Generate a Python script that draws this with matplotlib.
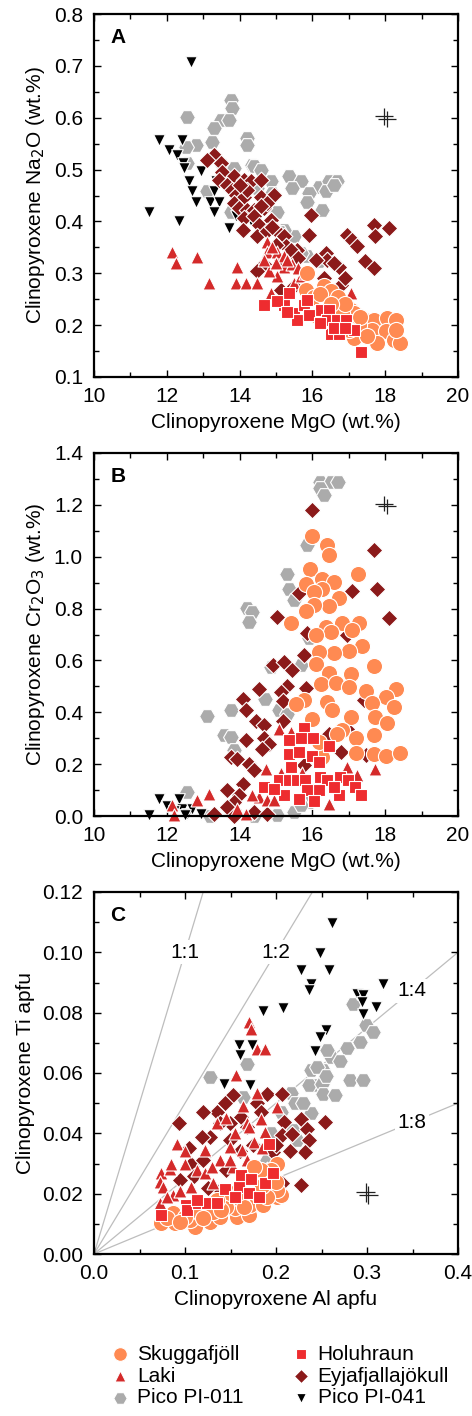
import matplotlib
matplotlib.use("Agg")
import matplotlib.pyplot as plt
from matplotlib.ticker import MultipleLocator, FormatStrFormatter

plt.rcParams['font.family'] = ['Liberation Sans', 'DejaVu Sans']

# ---------------- Panel A: MgO vs Na2O ----------------
skug_A_mgo = [15.86, 15.82, 16.04, 16.32, 16.50, 16.14, 17.05, 17.14, 17.45, 17.68, 18.06, 18.29, 17.64, 18.01,
              17.14, 17.78, 18.24, 18.42, 16.96, 16.64, 16.82, 17.28, 16.32,
              16.20, 16.70, 16.90, 17.30, 17.00, 17.50, 18.30, 16.50]
skug_A_na = [0.300, 0.268, 0.255, 0.275, 0.265, 0.217, 0.230, 0.223, 0.210, 0.210, 0.214, 0.210, 0.191, 0.188,
             0.175, 0.166, 0.172, 0.166, 0.201, 0.210, 0.223, 0.201, 0.223,
             0.260, 0.255, 0.240, 0.215, 0.190, 0.180, 0.190, 0.240]
holu_A_mgo = [14.67, 15.22, 15.36, 15.49, 15.77, 16.04, 16.23, 16.45, 15.58, 16.41, 16.68, 16.91, 17.14, 16.50,
              16.73, 17.33, 15.04, 15.86, 15.90, 16.20, 16.60, 15.30, 16.90]
holu_A_na = [0.239, 0.239, 0.262, 0.223, 0.239, 0.220, 0.230, 0.230, 0.210, 0.210, 0.210, 0.210, 0.191, 0.182,
             0.182, 0.149, 0.246, 0.249, 0.220, 0.205, 0.195, 0.225, 0.195]
laki_A_mgo = [12.15, 12.24, 12.84, 13.16, 13.94, 13.89, 14.17, 14.49, 14.76, 14.76, 15.04, 15.22, 15.22, 15.04,
              14.81, 15.45, 15.49, 14.86, 17.05, 15.68, 14.67, 15.31, 15.60, 15.80, 15.00, 14.90]
laki_A_na = [0.342, 0.320, 0.331, 0.281, 0.313, 0.281, 0.281, 0.281, 0.361, 0.342, 0.342, 0.333, 0.313, 0.294,
             0.304, 0.317, 0.281, 0.262, 0.262, 0.294, 0.326, 0.326, 0.310, 0.300, 0.320, 0.350]
eyja_A_mgo = [13.30, 13.11, 13.48, 13.52, 13.43, 13.85, 14.12, 14.30, 14.58, 13.66, 13.80, 13.89, 14.12, 14.58,
              14.95, 13.85, 13.98, 14.21, 14.40, 14.67, 14.76, 14.12, 14.40, 14.85, 14.53, 14.08, 14.49, 14.76,
              14.99, 15.22, 15.95, 15.90, 15.58, 15.31, 14.67, 14.49, 15.13, 16.36, 16.41, 16.73, 16.78, 16.32,
              16.96, 17.09, 17.23, 17.45, 17.68, 17.68, 17.73, 18.10, 15.13, 15.49, 15.27,
              14.20, 14.00, 14.60, 14.90, 15.00, 15.40, 15.60, 16.10, 16.60, 16.90]
eyja_A_na = [0.528, 0.519, 0.512, 0.496, 0.480, 0.487, 0.480, 0.477, 0.480, 0.470, 0.461, 0.451, 0.448, 0.448,
             0.451, 0.435, 0.426, 0.422, 0.422, 0.426, 0.435, 0.406, 0.410, 0.403, 0.394, 0.384, 0.371, 0.381,
             0.384, 0.371, 0.413, 0.374, 0.345, 0.330, 0.317, 0.304, 0.326, 0.339, 0.326, 0.313, 0.278, 0.291,
             0.374, 0.365, 0.352, 0.323, 0.310, 0.394, 0.371, 0.387, 0.268, 0.275, 0.352,
             0.460, 0.470, 0.430, 0.390, 0.355, 0.345, 0.330, 0.325, 0.320, 0.290]
pi011_A_mgo = [13.75, 13.80, 13.48, 13.71, 12.55, 13.30, 13.25, 12.79, 12.52, 14.21, 14.21, 12.56, 13.11, 13.52,
               13.85, 14.35, 14.40, 14.85, 15.36, 15.68, 15.45, 16.18, 16.46, 16.68, 16.36, 15.90, 15.86, 16.27,
               13.75, 15.04, 15.49, 15.22, 15.86, 16.18, 14.49, 14.60, 14.90, 15.10, 15.70, 16.60]
pi011_A_na = [0.634, 0.618, 0.596, 0.596, 0.602, 0.580, 0.554, 0.548, 0.544, 0.560, 0.548, 0.512, 0.458, 0.509,
              0.503, 0.509, 0.506, 0.477, 0.487, 0.477, 0.464, 0.467, 0.477, 0.477, 0.458, 0.455, 0.438, 0.422,
              0.419, 0.419, 0.371, 0.384, 0.333, 0.323, 0.464, 0.500, 0.455, 0.380, 0.340, 0.470]
pi041_A_mgo = [12.66, 11.79, 12.43, 12.06, 12.29, 12.45, 12.93, 12.61, 12.70, 13.34, 13.30, 12.79, 13.20, 13.43,
               13.30, 11.51, 12.34, 13.71, 13.89, 14.30, 12.47]
pi041_A_na = [0.708, 0.557, 0.557, 0.538, 0.528, 0.512, 0.498, 0.477, 0.458, 0.477, 0.458, 0.438, 0.438, 0.438,
              0.419, 0.419, 0.400, 0.387, 0.410, 0.400, 0.503]

# ---------------- Panel B: MgO vs Cr2O3 ----------------
skug_B_mgo = [16.00, 16.41, 16.45, 17.25, 15.93, 16.27, 16.58, 15.82, 16.27, 16.04, 16.73, 16.45, 16.04, 15.82,
              15.40, 17.28, 16.82, 16.36, 16.50, 16.09, 17.10, 17.37, 17.01, 16.59, 16.18, 16.09, 17.69, 17.05,
              16.45, 16.23, 16.64, 17.01, 17.46, 18.29, 18.01, 17.65, 18.24, 15.77, 15.54, 16.41, 16.54, 16.00,
              17.05, 17.72, 18.04, 16.82, 17.19, 17.69, 17.19, 17.69, 18.01, 18.41, 16.27, 16.68, 16.18]
skug_B_cr = [1.080, 1.045, 1.007, 0.933, 0.951, 0.913, 0.904, 0.895, 0.874, 0.865, 0.839, 0.810, 0.814, 0.792,
             0.745, 0.743, 0.743, 0.730, 0.711, 0.698, 0.717, 0.655, 0.637, 0.630, 0.633, 0.588, 0.578, 0.547,
             0.550, 0.509, 0.514, 0.498, 0.483, 0.488, 0.460, 0.436, 0.421, 0.447, 0.431, 0.440, 0.408, 0.376,
             0.380, 0.382, 0.359, 0.333, 0.299, 0.312, 0.243, 0.238, 0.230, 0.243, 0.228, 0.318, 0.286]
holu_B_mgo = [15.77, 15.36, 15.68, 16.03, 16.46, 15.36, 15.64, 16.00, 16.18, 14.67, 15.08, 15.36, 15.58, 15.81,
              16.22, 16.40, 16.77, 16.99, 17.18, 17.33, 16.73, 16.18, 15.86, 16.04, 15.63, 15.22, 14.95, 16.59,
              15.40]
holu_B_cr = [0.341, 0.292, 0.299, 0.299, 0.269, 0.241, 0.247, 0.230, 0.209, 0.112, 0.138, 0.138, 0.138, 0.138,
             0.151, 0.138, 0.151, 0.138, 0.112, 0.080, 0.080, 0.099, 0.099, 0.058, 0.067, 0.080, 0.106, 0.112,
             0.190]
laki_B_mgo = [12.15, 12.20, 12.84, 13.16, 13.94, 14.17, 14.53, 14.76, 15.08, 15.40, 14.72, 16.96, 17.23, 17.73,
              16.45, 15.13, 15.72, 14.95, 14.35]
laki_B_cr = [0.041, 0.003, 0.060, 0.086, 0.028, 0.009, 0.073, 0.060, 0.337, 0.324, 0.183, 0.190, 0.157, 0.183,
             0.048, 0.164, 0.164, 0.060, 0.080]
eyja_B_mgo = [16.00, 17.69, 17.77, 17.10, 18.10, 15.02, 15.63, 14.93, 15.22, 15.45, 15.77, 15.86, 16.96, 14.53,
              15.31, 15.13, 15.82, 14.08, 15.18, 14.17, 14.44, 15.18, 14.67, 14.17, 14.67, 14.81, 16.45, 16.78,
              13.75, 13.94, 14.26, 14.40, 14.08, 13.66, 13.98, 13.85, 13.66, 13.30, 13.85, 14.40, 14.76, 14.62,
              15.77, 17.42, 17.46, 16.96]
eyja_B_cr = [1.180, 1.024, 0.874, 0.868, 0.762, 0.766, 0.859, 0.582, 0.595, 0.563, 0.621, 0.704, 0.698, 0.488,
             0.501, 0.479, 0.492, 0.453, 0.444, 0.408, 0.367, 0.367, 0.350, 0.292, 0.299, 0.279, 0.318, 0.247,
             0.228, 0.221, 0.202, 0.176, 0.125, 0.099, 0.080, 0.054, 0.035, 0.009, 0.000, 0.015, 0.009, 0.260,
             0.196, 0.447, 0.234, 0.337]
pi011_B_mgo = [16.22, 16.50, 16.69, 16.22, 16.31, 15.86, 15.31, 15.36, 15.49, 14.21, 14.35, 14.26, 15.91, 14.87,
               15.68, 14.71, 13.75, 13.11, 13.57, 13.75, 15.08, 15.31, 12.56, 13.20, 14.40, 15.04, 15.49, 15.90,
               15.68, 13.85]
pi011_B_cr = [1.290, 1.290, 1.290, 1.264, 1.239, 1.045, 0.933, 0.874, 0.833, 0.801, 0.788, 0.749, 0.685, 0.576,
              0.582, 0.453, 0.408, 0.385, 0.312, 0.305, 0.408, 0.395, 0.093, 0.000, 0.000, 0.003, 0.015, 0.054,
              0.041, 0.254]
pi041_B_mgo = [11.51, 11.79, 12.34, 12.00, 12.43, 12.56, 12.70, 12.93, 12.20, 12.51]
pi041_B_cr = [0.005, 0.067, 0.067, 0.040, 0.028, 0.009, 0.028, 0.009, 0.020, 0.003]

# ---------------- Panel C: Al vs Ti (apfu) ----------------
skug_C_al = [0.074, 0.089, 0.111, 0.128, 0.106, 0.087, 0.117, 0.139, 0.157, 0.170, 0.155, 0.171, 0.186, 0.201,
             0.206, 0.201, 0.201, 0.194, 0.183, 0.176, 0.145, 0.131, 0.100, 0.080, 0.161, 0.179, 0.149,
             0.095, 0.120, 0.140, 0.165, 0.190, 0.200, 0.185, 0.160, 0.135]
skug_C_ti = [0.0102, 0.0102, 0.0090, 0.0107, 0.0113, 0.0135, 0.0135, 0.0124, 0.0124, 0.0129, 0.0151, 0.0162,
             0.0162, 0.0190, 0.0195, 0.0212, 0.0300, 0.0278, 0.0278, 0.0289, 0.0157, 0.0140, 0.0124, 0.0118,
             0.0179, 0.0201, 0.0201, 0.0105, 0.0120, 0.0145, 0.0155, 0.0190, 0.0240, 0.0225, 0.0205, 0.0180]
holu_C_al = [0.074, 0.101, 0.102, 0.114, 0.124, 0.135, 0.144, 0.159, 0.162, 0.173, 0.155, 0.170, 0.181, 0.188,
             0.197, 0.192, 0.113]
holu_C_ti = [0.0129, 0.0162, 0.0146, 0.0168, 0.0168, 0.0168, 0.0217, 0.0223, 0.0262, 0.0250, 0.0190, 0.0201,
             0.0190, 0.0236, 0.0267, 0.0366, 0.0179]
laki_C_al = [0.170, 0.173, 0.179, 0.188, 0.156, 0.179, 0.164, 0.201, 0.135, 0.168, 0.183, 0.188, 0.091, 0.122,
             0.149, 0.163, 0.176, 0.100, 0.139, 0.113, 0.074, 0.073, 0.084, 0.076, 0.107, 0.122, 0.153, 0.168,
             0.087, 0.073, 0.131, 0.149, 0.155, 0.170, 0.145, 0.185, 0.100, 0.085, 0.095, 0.130, 0.160, 0.080]
laki_C_ti = [0.0769, 0.0747, 0.0681, 0.0681, 0.0593, 0.0534, 0.0490, 0.0488, 0.0433, 0.0433, 0.0449, 0.0405,
             0.0366, 0.0344, 0.0355, 0.0344, 0.0372, 0.0300, 0.0311, 0.0278, 0.0267, 0.0239, 0.0283, 0.0223,
             0.0223, 0.0267, 0.0289, 0.0311, 0.0195, 0.0168, 0.0234, 0.0311, 0.0400, 0.0420, 0.0450, 0.0350,
             0.0340, 0.0300, 0.0210, 0.0290, 0.0250, 0.0190]
eyja_C_al = [0.093, 0.153, 0.144, 0.135, 0.120, 0.190, 0.207, 0.179, 0.161, 0.149, 0.139, 0.128, 0.119, 0.149,
             0.209, 0.227, 0.254, 0.207, 0.218, 0.234, 0.236, 0.232, 0.197, 0.104, 0.095, 0.107, 0.120, 0.139,
             0.228, 0.207, 0.183, 0.168, 0.160, 0.175, 0.200, 0.215, 0.145, 0.125, 0.110, 0.190]
eyja_C_ti = [0.0433, 0.0526, 0.0499, 0.0471, 0.0471, 0.0532, 0.0530, 0.0499, 0.0455, 0.0433, 0.0433, 0.0388,
             0.0388, 0.0377, 0.0438, 0.0449, 0.0436, 0.0394, 0.0399, 0.0416, 0.0377, 0.0339, 0.0339, 0.0350,
             0.0245, 0.0300, 0.0310, 0.0212, 0.0228, 0.0236, 0.0471, 0.0422, 0.0340, 0.0360, 0.0360, 0.0340,
             0.0280, 0.0220, 0.0260, 0.0280]
pi011_C_al = [0.285, 0.299, 0.307, 0.292, 0.278, 0.260, 0.256, 0.281, 0.296, 0.238, 0.252, 0.241, 0.236, 0.251,
              0.252, 0.265, 0.216, 0.221, 0.238, 0.219, 0.223, 0.168, 0.128, 0.164, 0.190,
              0.245, 0.255, 0.230, 0.270, 0.205, 0.195]
pi011_C_ti = [0.0830, 0.0758, 0.0736, 0.0703, 0.0684, 0.0653, 0.0675, 0.0578, 0.0576, 0.0609, 0.0609, 0.0560,
              0.0560, 0.0565, 0.0532, 0.0526, 0.0534, 0.0499, 0.0466, 0.0410, 0.0377, 0.0631, 0.0587, 0.0521,
              0.0310, 0.0620, 0.0590, 0.0500, 0.0640, 0.0470, 0.0400]
pi041_C_al = [0.262, 0.248, 0.228, 0.258, 0.238, 0.236, 0.318, 0.289, 0.296, 0.294, 0.310, 0.296, 0.186, 0.208,
              0.159, 0.174, 0.160, 0.255, 0.248, 0.243, 0.143, 0.171]
pi041_C_ti = [0.1097, 0.0998, 0.0940, 0.0940, 0.0896, 0.0876, 0.0896, 0.0863, 0.0857, 0.0835, 0.0819, 0.0797,
              0.0805, 0.0817, 0.0692, 0.0692, 0.0659, 0.0744, 0.0719, 0.0673, 0.0563, 0.0560]

ratios = [1, 2, 4, 8]
ratio_labels = ['1:1', '1:2', '1:4', '1:8']
ratio_label_al = [0.100, 0.200, 0.349, 0.349]

legend_order = ['Skuggafjöll', 'Laki', 'Pico PI-011', 'Holuhraun', 'Eyjafjallajökull', 'Pico PI-041']

# error crosses (center, half-widths)
err_A = (18.0, 0.60, 0.25, 0.016)
err_B = (18.0, 1.20, 0.25, 0.029)
err_C = (0.30, 0.020, 0.0103, 0.0030)

styles = {
    'Skuggafjöll': dict(marker='o', color='#FF8A52', s=135),
    'Holuhraun': dict(marker='s', color='#EE2C2F', s=68),
    'Laki': dict(marker='^', color='#D42A2A', s=88),
    'Eyjafjallajökull': dict(marker='D', color='#8B1A1A', s=72),
    'Pico PI-011': dict(marker='H', color='#ABABAB', s=130),
    'Pico PI-041': dict(marker='v', color='#000000', s=70),
}

W, H = 472, 1416
fig = plt.figure(figsize=(W / 100, H / 100), dpi=100)

def fax(l, t, r, b):
    return fig.add_axes([l / W, 1 - b / H, (r - l) / W, (b - t) / H])

axA = fax(94, 14, 458, 377)
axB = fax(94, 453, 458, 816)
axC = fax(94, 892, 458, 1254)

FS = 15

def draw(ax, data):
    order = ['Pico PI-011', 'Pico PI-041', 'Eyjafjallajökull', 'Laki', 'Skuggafjöll', 'Holuhraun']
    for name in order:
        x, y = data[name]
        st = styles[name]
        ax.scatter(x, y, marker=st['marker'], c=st['color'], s=st['s'], edgecolors='white',
                   linewidths=0.8, zorder=3, clip_on=False)

def style_axes(ax, xlim, ylim, xmaj, xmin, ymaj, ymin, xfmt, yfmt, xlabel, ylabel, letter):
    ax.set_xlim(*xlim)
    ax.set_ylim(*ylim)
    ax.xaxis.set_major_locator(MultipleLocator(xmaj))
    ax.xaxis.set_minor_locator(MultipleLocator(xmin))
    ax.yaxis.set_major_locator(MultipleLocator(ymaj))
    ax.yaxis.set_minor_locator(MultipleLocator(ymin))
    ax.xaxis.set_major_formatter(FormatStrFormatter(xfmt))
    ax.yaxis.set_major_formatter(FormatStrFormatter(yfmt))
    ax.tick_params(which='both', direction='in', top=True, right=True, labelsize=FS, width=1.0)
    ax.tick_params(which='major', length=5)
    ax.tick_params(which='minor', length=3.5)
    ax.tick_params(axis='x', pad=7)
    ax.tick_params(axis='y', pad=8)
    for sp in ax.spines.values():
        sp.set_linewidth(1.6)
        sp.set_zorder(5)
    ax.set_xlabel(xlabel, fontsize=FS, labelpad=5)
    ax.set_ylabel(ylabel, fontsize=FS, labelpad=5)
    ax.text(0.045, 0.935, letter, transform=ax.transAxes, fontsize=FS, fontweight='bold',
            ha='left', va='center', zorder=6)

def err_cross(ax, e, dx, dy):
    x, y, xe, ye = e
    for ox, oy in ((-dx, dy), (dx, -dy)):
        ax.errorbar([x + ox], [y + oy], xerr=[xe], yerr=[ye], fmt='none', ecolor='#222222',
                    elinewidth=0.9, capsize=0, zorder=4)

dataA = {'Skuggafjöll': (skug_A_mgo, skug_A_na), 'Holuhraun': (holu_A_mgo, holu_A_na),
         'Laki': (laki_A_mgo, laki_A_na), 'Eyjafjallajökull': (eyja_A_mgo, eyja_A_na),
         'Pico PI-011': (pi011_A_mgo, pi011_A_na), 'Pico PI-041': (pi041_A_mgo, pi041_A_na)}
dataB = {'Skuggafjöll': (skug_B_mgo, skug_B_cr), 'Holuhraun': (holu_B_mgo, holu_B_cr),
         'Laki': (laki_B_mgo, laki_B_cr), 'Eyjafjallajökull': (eyja_B_mgo, eyja_B_cr),
         'Pico PI-011': (pi011_B_mgo, pi011_B_cr), 'Pico PI-041': (pi041_B_mgo, pi041_B_cr)}
dataC = {'Skuggafjöll': (skug_C_al, skug_C_ti), 'Holuhraun': (holu_C_al, holu_C_ti),
         'Laki': (laki_C_al, laki_C_ti), 'Eyjafjallajökull': (eyja_C_al, eyja_C_ti),
         'Pico PI-011': (pi011_C_al, pi011_C_ti), 'Pico PI-041': (pi041_C_al, pi041_C_ti)}

# Panel A
draw(axA, dataA)
style_axes(axA, (10, 20), (0.1, 0.8), 2, 1, 0.1, 0.05, '%d', '%.1f',
           'Clinopyroxene MgO (wt.%)', 'Clinopyroxene Na$_2$O (wt.%)', 'A')
err_cross(axA, err_A, 0.04, 0.0025)

# Panel B
draw(axB, dataB)
style_axes(axB, (10, 20), (0.0, 1.4), 2, 1, 0.2, 0.1, '%d', '%.1f',
           'Clinopyroxene MgO (wt.%)', 'Clinopyroxene Cr$_2$O$_3$ (wt.%)', 'B')
err_cross(axB, err_B, 0.04, 0.005)

# Panel C
for r, lab, xa in zip(ratios, ratio_labels, ratio_label_al):
    axC.plot([0, 0.4], [0, 0.4 / r], color='#BDBDBD', lw=0.9, zorder=1)
    axC.text(xa, xa / r, lab, fontsize=FS, ha='center', va='center', zorder=2,
             bbox=dict(boxstyle='square,pad=0.12', fc='white', ec='none'))
draw(axC, dataC)
style_axes(axC, (0, 0.4), (0, 0.12), 0.1, 0.05, 0.02, 0.01, '%.1f', '%.2f',
           'Clinopyroxene Al apfu', 'Clinopyroxene Ti apfu', 'C')
err_cross(axC, err_C, 0.0016, 0.0004)

# Legend
handles = []
for name in legend_order:
    st = styles[name]
    h = axC.scatter([], [], marker=st['marker'], c=st['color'], s=st['s'], edgecolors='white',
                    linewidths=0.8, label=name)
    handles.append(h)
fig.legend(handles=handles, labels=[h.get_label() for h in handles], ncol=2,
           loc='center', bbox_to_anchor=(0.591, 1 - 1376 / H), frameon=False, fontsize=FS,
           handletextpad=0.25, columnspacing=2.2, labelspacing=0.14, borderpad=0, handlelength=1.1,
           markerscale=0.85)

fig.savefig('out.png', dpi=100)
